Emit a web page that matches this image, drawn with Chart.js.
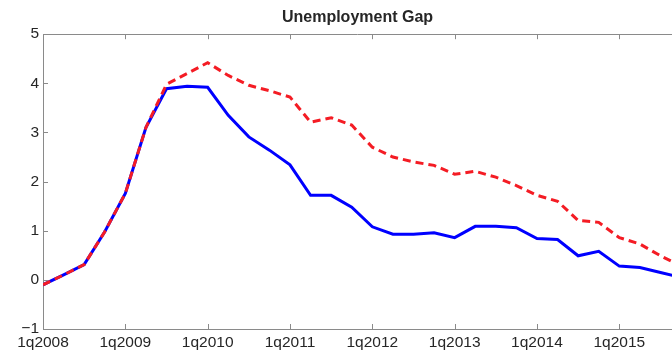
<!DOCTYPE html>
<html>
<head>
<meta charset="utf-8">
<script src="https://cdn.jsdelivr.net/npm/chart.js@4.4.1/dist/chart.umd.min.js"></script>
<style>
  html, body { margin: 0; padding: 0; background: #fff; overflow: hidden; }
  canvas { display: block; }
</style>
</head>
<body>
<canvas id="myChart" width="672" height="352"></canvas>
<script>
const quarters = [
  '1q2008', '2q2008', '3q2008', '4q2008',
  '1q2009', '2q2009', '3q2009', '4q2009',
  '1q2010', '2q2010', '3q2010', '4q2010',
  '1q2011', '2q2011', '3q2011', '4q2011',
  '1q2012', '2q2012', '3q2012', '4q2012',
  '1q2013', '2q2013', '3q2013', '4q2013',
  '1q2014', '2q2014', '3q2014', '4q2014',
  '1q2015', '2q2015', '3q2015', '4q2015'
];
const tickLabels = ['1q2008', '1q2009', '1q2010', '1q2011', '1q2012', '1q2013', '1q2014', '1q2015'];
const yTicks = [-1, 0, 1, 2, 3, 4, 5];

// solid blue line
const gapSolid = [
  -0.10, 0.10, 0.31, 0.98, 1.76, 3.10, 3.89, 3.94,
  3.92, 3.35, 2.91, 2.64, 2.34, 1.72, 1.72, 1.48,
  1.08, 0.93, 0.93, 0.96, 0.86, 1.09, 1.09, 1.06,
  0.84, 0.82, 0.49, 0.58, 0.28, 0.25, 0.15, 0.05
];
// dashed red line
const gapDashed = [
  -0.10, 0.10, 0.31, 0.98, 1.76, 3.10, 3.98, 4.20,
  4.42, 4.16, 3.96, 3.85, 3.72, 3.21, 3.30, 3.15,
  2.70, 2.50, 2.40, 2.33, 2.15, 2.21, 2.09, 1.92,
  1.72, 1.60, 1.21, 1.17, 0.86, 0.73, 0.49, 0.28
];

const axisColor = '#8a8a8a';
const textColor = '#262626';
const font = 'Liberation Sans, Arial, Helvetica, sans-serif';

const toPoints = (vals) => vals.map((v, i) => ({ x: i, y: v }));

// matlab style ticks pointing inside the box + top border
const innerTicks = {
  id: 'innerTicks',
  afterDraw(chart) {
    const { ctx, chartArea: a, scales: { x, y } } = chart;
    ctx.save();
    ctx.strokeStyle = axisColor;
    ctx.lineWidth = 1;
    ctx.beginPath();
    ctx.moveTo(a.left, Math.round(a.top) + 0.5);
    ctx.lineTo(a.right, Math.round(a.top) + 0.5);
    x.ticks.forEach((t) => {
      const px = Math.round(x.getPixelForValue(t.value)) + 0.5;
      ctx.moveTo(px, a.bottom);
      ctx.lineTo(px, a.bottom - 5);
      ctx.moveTo(px, a.top);
      ctx.lineTo(px, a.top + 5);
    });
    y.ticks.forEach((t) => {
      const py = Math.round(y.getPixelForValue(t.value)) + 0.5;
      ctx.moveTo(a.left, py);
      ctx.lineTo(a.left + 5, py);
    });
    ctx.stroke();
    ctx.restore();
  }
};

const config = {
  type: 'line',
  data: {
    datasets: [
      {
        label: 'dashed',
        data: toPoints(gapDashed),
        borderColor: '#f41c24',
        borderWidth: 3,
        borderDash: [8, 5],
        pointRadius: 0,
        tension: 0
      },
      {
        label: 'solid',
        data: toPoints(gapSolid),
        borderColor: '#0000ff',
        borderWidth: 3,
        pointRadius: 0,
        tension: 0
      }
    ]
  },
  options: {
    responsive: false,
    animation: false,
    layout: { padding: 0 },
    plugins: {
      legend: { display: false },
      tooltip: { enabled: false },
      title: {
        display: true,
        text: 'Unemployment Gap',
        fullSize: false,
        color: textColor,
        font: { family: font, size: 16, weight: 'bold', lineHeight: 1.2 },
        padding: { top: 8, bottom: 7 }
      }
    },
    scales: {
      x: {
        type: 'linear',
        min: 0,
        max: 30.56,
        grid: { display: false, drawTicks: false },
        border: { display: true, color: axisColor, width: 1 },
        ticks: {
          color: textColor,
          font: { family: font, size: 15.5 },
          padding: 4,
          maxRotation: 0,
          autoSkip: false,
          callback: (v) => quarters[v]
        },
        afterBuildTicks: (s) => {
          s.ticks = tickLabels.map((l) => ({ value: quarters.indexOf(l) }));
        },
        afterFit: (s) => { s.height = 23; }
      },
      y: {
        min: -1,
        max: 5,
        grid: { display: false, drawTicks: false },
        border: { display: true, color: axisColor, width: 1 },
        ticks: {
          color: textColor,
          font: { family: font, size: 15.5 },
          padding: 4,
          callback: (v) => (v < 0 ? '\u2212' + Math.abs(v) : String(v))
        },
        afterBuildTicks: (s) => {
          s.ticks = yTicks.map((v) => ({ value: v }));
        },
        afterFit: (s) => { s.width = 43; }
      }
    }
  },
  plugins: [innerTicks]
};

const chart = new Chart(document.querySelector('#myChart'), config);
</script>
</body>
</html>
